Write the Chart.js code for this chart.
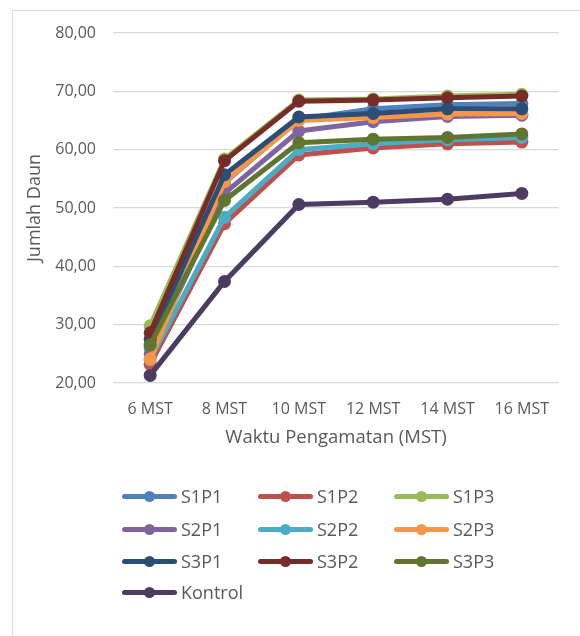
<!DOCTYPE html>
<html>
<head>
<meta charset="utf-8">
<script src="https://cdn.jsdelivr.net/npm/chart.js@4"></script>
<style>
  html, body { margin: 0; padding: 0; background: #fff; overflow: hidden; }
  #wrap { position: relative; width: 580px; height: 636px; overflow: hidden; }
  #frame { position: absolute; left: 12px; top: 10px; width: 640px; height: 700px; border: 1px solid #d9d9d9; box-sizing: border-box; }
  #c { position: absolute; left: 0; top: 0; }
  #legend { position: absolute; left: 0; top: 0; width: 580px; height: 636px; font-family: 'Open Sans', sans-serif; font-size: 18px; color: #595959; }
  .item { position: absolute; height: 30px; display: flex; align-items: center; }
  .sw { position: relative; width: 55px; height: 30px; margin-right: 4px; }
  .sw .ln { position: absolute; left: 0; top: 12.5px; width: 55px; height: 5px; border-radius: 3px; }
  .sw .dt { position: absolute; left: 22px; top: 9.5px; width: 11px; height: 11px; border-radius: 50%; }
</style>
</head>
<body>
<div id="wrap">
  <div id="frame"></div>
  <canvas id="c" width="580" height="636"></canvas>
  <div id="legend"></div>
</div>
<script>
const categories = ['6 MST', '8 MST', '10 MST', '12 MST', '14 MST', '16 MST'];
const seriesNames = ['S1P1', 'S1P2', 'S1P3', 'S2P1', 'S2P2', 'S2P3', 'S3P1', 'S3P2', 'S3P3', 'Kontrol'];
const S1P1 = [26.0, 54.3, 65.2, 67.0, 67.7, 67.9];
const S1P2 = [23.2, 47.3, 59.1, 60.3, 61.0, 61.3];
const S1P3 = [29.8, 58.4, 68.5, 68.7, 69.2, 69.5];
const S2P1 = [25.0, 52.5, 63.2, 64.8, 65.7, 65.9];
const S2P2 = [24.0, 48.4, 60.0, 61.0, 61.7, 62.1];
const S2P3 = [24.1, 54.5, 65.0, 65.5, 66.1, 66.2];
const S3P1 = [27.5, 55.7, 65.6, 66.2, 67.0, 67.0];
const S3P2 = [28.6, 58.1, 68.3, 68.5, 68.9, 69.2];
const S3P3 = [26.5, 51.3, 61.2, 61.8, 62.1, 62.7];
const Kontrol = [21.3, 37.4, 50.6, 51.0, 51.5, 52.5];
const yTicks = [20, 30, 40, 50, 60, 70, 80];
const xTitle = 'Waktu Pengamatan (MST)';
const yTitle = 'Jumlah Daun';

const seriesValues = [S1P1, S1P2, S1P3, S2P1, S2P2, S2P3, S3P1, S3P2, S3P3, Kontrol];
const colors = ['#4F81BD', '#C0504D', '#9BBB59', '#8064A2', '#4BACC6', '#F79646', '#2C4D75', '#772C2A', '#5F7530', '#4D3B62'];

const datasets = seriesNames.map((n, i) => ({
  label: n,
  data: seriesValues[i],
  borderColor: colors[i],
  backgroundColor: colors[i],
  pointBackgroundColor: colors[i],
  pointBorderColor: colors[i],
  pointBorderWidth: 0,
  pointRadius: 6.5,
  borderWidth: 5,
  tension: 0,
  fill: false,
  order: seriesNames.length - i
}));

Chart.defaults.font.family = "'Open Sans', sans-serif";
Chart.defaults.color = '#595959';

new Chart(document.getElementById('c'), {
  type: 'line',
  data: { labels: categories, datasets },
  options: {
    responsive: false,
    animation: false,
    layout: { padding: { left: 0, top: 33, right: 21, bottom: 176 } },
    plugins: { legend: { display: false }, tooltip: { enabled: false } },
    scales: {
      x: {
        type: 'category',
        offset: true,
        grid: { display: false, drawTicks: false },
        border: { display: false },
        ticks: { font: { size: 16 }, padding: 17, color: '#595959', maxRotation: 0 },
        title: { display: true, text: xTitle, font: { size: 18.5 }, color: '#595959', padding: { top: 0, bottom: 11 } },
        afterFit: s => { s.height = 77; }
      },
      y: {
        min: 20, max: 80,
        afterBuildTicks: s => { s.ticks = yTicks.map(v => ({ value: v })); },
        grid: { color: '#d9d9d9', lineWidth: 1.3, drawTicks: false },
        border: { display: false },
        ticks: { font: { size: 16 }, padding: 17, color: '#595959', callback: v => Number(v).toFixed(2).replace('.', ',') },
        title: { display: true, text: yTitle, font: { size: 18 }, color: '#595959', padding: { top: 24, bottom: 0 } },
        afterFit: s => { s.width = 113; }
      }
    }
  }
});

// HTML legend built from the series
const leg = document.getElementById('legend');
const colX = [122, 258, 394];
const rowY = [496, 529, 561, 592];
seriesNames.forEach((n, i) => {
  const col = i % 3, row = Math.floor(i / 3);
  const it = document.createElement('div');
  it.className = 'item';
  it.style.left = colX[col] + 'px';
  it.style.top = (rowY[row] - 15) + 'px';
  it.innerHTML = '<div class="sw"><div class="ln" style="background:' + colors[i] + '"></div><div class="dt" style="background:' + colors[i] + '"></div></div><span>' + n + '</span>';
  leg.appendChild(it);
});
</script>
</body>
</html>
